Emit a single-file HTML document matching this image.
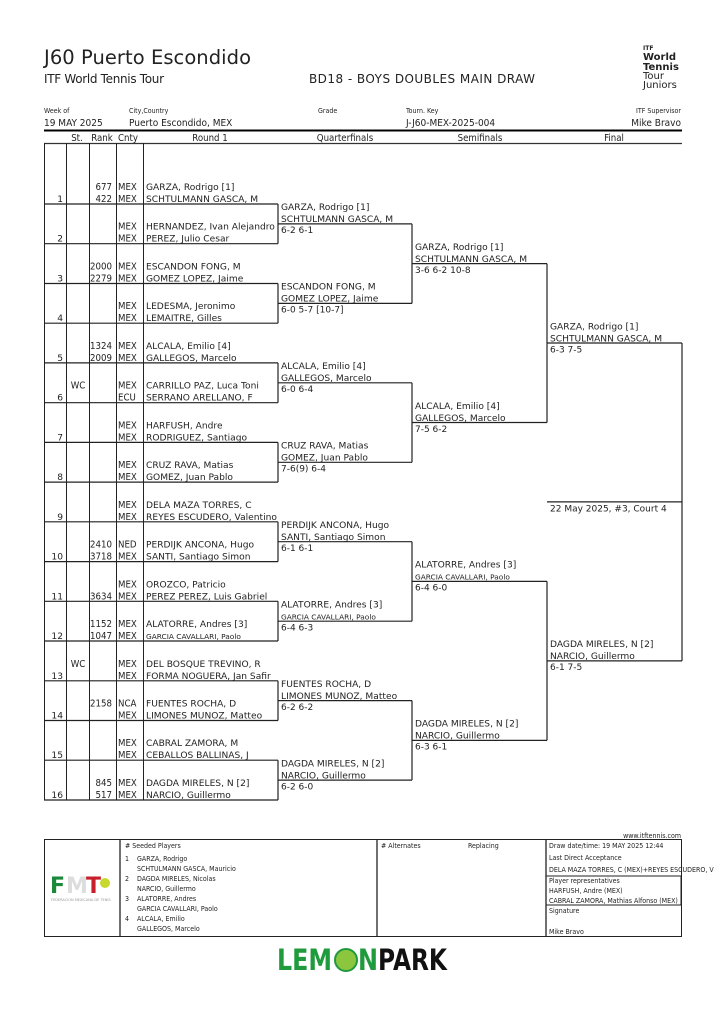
<!DOCTYPE html>
<html><head><meta charset="utf-8"><style>
html,body{margin:0;padding:0;background:#fff;}
svg{display:block}
text{font-family:"DejaVu Sans","Liberation Sans",sans-serif;fill:#222}
.n{font-size:9.1px}
.c{font-family:"DejaVu Sans Condensed","DejaVu Sans",sans-serif;font-size:9.6px}
.s{font-size:9px}
.sm{font-size:7.4px}
.h{font-family:"DejaVu Sans Condensed","DejaVu Sans",sans-serif;font-size:9.6px}
.f{font-family:"DejaVu Sans Condensed","DejaVu Sans",sans-serif;font-size:7px}
</style></head><body>
<svg width="724" height="1024" viewBox="0 0 724 1024" xmlns="http://www.w3.org/2000/svg">
<rect width="724" height="1024" fill="#fff"/>
<!-- Header -->
<text x="44" y="64" style="font-size:19.5px" textLength="207">J60 Puerto Escondido</text>
<text x="44" y="83" style="font-size:12px" textLength="120">ITF World Tennis Tour</text>
<text x="309" y="83" style="font-size:12px" textLength="226">BD18 - BOYS DOUBLES MAIN DRAW</text>
<g style="font-family:'Liberation Sans',sans-serif">
<text x="643" y="50" style="font-size:6px;font-weight:bold">ITF</text>
<text x="643" y="60" style="font-size:10px;font-weight:bold">World</text>
<text x="643" y="70" style="font-size:10px;font-weight:bold">Tennis</text>
<text x="643" y="79" style="font-size:10px">Tour</text>
<text x="643" y="88" style="font-size:10px">Juniors</text>
</g>
<text x="44" y="113" class="f">Week of</text>
<text x="129" y="113" class="f">City,Country</text>
<text x="318" y="113" class="f">Grade</text>
<text x="406" y="113" class="f">Tourn. Key</text>
<text x="681" y="113" class="f" text-anchor="end">ITF Supervisor</text>
<text x="44" y="126" class="h" style="font-size:10px">19 MAY 2025</text>
<text x="129" y="126" class="h" style="font-size:10px">Puerto Escondido, MEX</text>
<text x="406" y="126" class="h" style="font-size:10px">J-J60-MEX-2025-004</text>
<text x="681" y="126" class="h" style="font-size:10px" text-anchor="end">Mike Bravo</text>
<line x1="44" y1="130.5" x2="682" y2="130.5" stroke="#000" stroke-width="2"/>
<text x="77" y="141" text-anchor="middle" class="h">St.</text>
<text x="102" y="141" text-anchor="middle" class="h">Rank</text>
<text x="128" y="141" text-anchor="middle" class="h">Cnty</text>
<text x="210" y="141" text-anchor="middle" class="h">Round 1</text>
<text x="345" y="141" text-anchor="middle" class="h">Quarterfinals</text>
<text x="480" y="141" text-anchor="middle" class="h">Semifinals</text>
<text x="614" y="141" text-anchor="middle" class="h">Final</text>
<line x1="44" y1="143.5" x2="682" y2="143.5" stroke="#333" stroke-width="1.3"/>
<g stroke="#222" stroke-width="1">
<line x1="44.5" y1="143" x2="44.5" y2="800"/>
<line x1="66.5" y1="143" x2="66.5" y2="800"/>
<line x1="89.5" y1="143" x2="89.5" y2="800"/>
<line x1="116.5" y1="143" x2="116.5" y2="800"/>
<line x1="143.5" y1="143" x2="143.5" y2="800"/>
</g>
<g stroke="#222" stroke-width="1.2">
<line x1="44" y1="204" x2="278" y2="204"/>
<line x1="44" y1="243.7" x2="278" y2="243.7"/>
<line x1="44" y1="283.5" x2="278" y2="283.5"/>
<line x1="44" y1="323.2" x2="278" y2="323.2"/>
<line x1="44" y1="362.9" x2="278" y2="362.9"/>
<line x1="44" y1="402.7" x2="278" y2="402.7"/>
<line x1="44" y1="442.4" x2="278" y2="442.4"/>
<line x1="44" y1="482.1" x2="278" y2="482.1"/>
<line x1="44" y1="521.8" x2="278" y2="521.8"/>
<line x1="44" y1="561.6" x2="278" y2="561.6"/>
<line x1="44" y1="601.3" x2="278" y2="601.3"/>
<line x1="44" y1="641" x2="278" y2="641"/>
<line x1="44" y1="680.8" x2="278" y2="680.8"/>
<line x1="44" y1="720.5" x2="278" y2="720.5"/>
<line x1="44" y1="760.2" x2="278" y2="760.2"/>
<line x1="44" y1="800" x2="278" y2="800"/>
<line x1="278" y1="204" x2="278" y2="243.7"/>
<line x1="278" y1="283.5" x2="278" y2="323.2"/>
<line x1="278" y1="362.9" x2="278" y2="402.7"/>
<line x1="278" y1="442.4" x2="278" y2="482.1"/>
<line x1="278" y1="521.8" x2="278" y2="561.6"/>
<line x1="278" y1="601.3" x2="278" y2="641"/>
<line x1="278" y1="680.8" x2="278" y2="720.5"/>
<line x1="278" y1="760.2" x2="278" y2="800"/>
<line x1="278" y1="223.9" x2="412" y2="223.9"/>
<line x1="278" y1="303.4" x2="412" y2="303.4"/>
<line x1="278" y1="382.8" x2="412" y2="382.8"/>
<line x1="278" y1="462.3" x2="412" y2="462.3"/>
<line x1="278" y1="541.7" x2="412" y2="541.7"/>
<line x1="278" y1="621.2" x2="412" y2="621.2"/>
<line x1="278" y1="700.6" x2="412" y2="700.6"/>
<line x1="278" y1="780.1" x2="412" y2="780.1"/>
<line x1="412" y1="223.9" x2="412" y2="303.4"/>
<line x1="412" y1="382.8" x2="412" y2="462.3"/>
<line x1="412" y1="541.7" x2="412" y2="621.2"/>
<line x1="412" y1="700.6" x2="412" y2="780.1"/>
<line x1="412" y1="263.6" x2="547" y2="263.6"/>
<line x1="412" y1="422.5" x2="547" y2="422.5"/>
<line x1="412" y1="581.4" x2="547" y2="581.4"/>
<line x1="412" y1="740.4" x2="547" y2="740.4"/>
<line x1="547" y1="263.6" x2="547" y2="422.5"/>
<line x1="547" y1="581.4" x2="547" y2="740.4"/>
<line x1="547" y1="343" x2="682" y2="343"/>
<line x1="547" y1="660.9" x2="682" y2="660.9"/>
<line x1="682" y1="343" x2="682" y2="660.9"/>
<line x1="547" y1="501.9" x2="682" y2="501.9"/>
</g>
<g>
<text x="63" y="202" text-anchor="end" class="n">1</text>
<text x="112" y="190" text-anchor="end" class="c">677</text><text x="112" y="202" text-anchor="end" class="c">422</text>
<text x="118" y="190" class="c">MEX</text><text x="118" y="202" class="c">MEX</text>
<text x="146" y="190" class="n">GARZA, Rodrigo [1]</text><text x="146" y="202" class="n">SCHTULMANN GASCA, M</text>

<text x="63" y="241.7" text-anchor="end" class="n">2</text>
<text x="118" y="229.7" class="c">MEX</text><text x="118" y="241.7" class="c">MEX</text>
<text x="146" y="229.7" class="n">HERNANDEZ, Ivan Alejandro</text><text x="146" y="241.7" class="n">PEREZ, Julio Cesar</text>

<text x="63" y="281.5" text-anchor="end" class="n">3</text>
<text x="112" y="269.5" text-anchor="end" class="c">2000</text><text x="112" y="281.5" text-anchor="end" class="c">2279</text>
<text x="118" y="269.5" class="c">MEX</text><text x="118" y="281.5" class="c">MEX</text>
<text x="146" y="269.5" class="n">ESCANDON FONG, M</text><text x="146" y="281.5" class="n">GOMEZ LOPEZ, Jaime</text>

<text x="63" y="321.2" text-anchor="end" class="n">4</text>
<text x="118" y="309.2" class="c">MEX</text><text x="118" y="321.2" class="c">MEX</text>
<text x="146" y="309.2" class="n">LEDESMA, Jeronimo</text><text x="146" y="321.2" class="n">LEMAITRE, Gilles</text>

<text x="63" y="360.9" text-anchor="end" class="n">5</text>
<text x="112" y="348.9" text-anchor="end" class="c">1324</text><text x="112" y="360.9" text-anchor="end" class="c">2009</text>
<text x="118" y="348.9" class="c">MEX</text><text x="118" y="360.9" class="c">MEX</text>
<text x="146" y="348.9" class="n">ALCALA, Emilio [4]</text><text x="146" y="360.9" class="n">GALLEGOS, Marcelo</text>

<text x="63" y="400.7" text-anchor="end" class="n">6</text>
<text x="78" y="388.7" text-anchor="middle" class="c">WC</text>
<text x="118" y="388.7" class="c">MEX</text><text x="118" y="400.7" class="c">ECU</text>
<text x="146" y="388.7" class="n">CARRILLO PAZ, Luca Toni</text><text x="146" y="400.7" class="n">SERRANO ARELLANO, F</text>

<text x="63" y="440.4" text-anchor="end" class="n">7</text>
<text x="118" y="428.4" class="c">MEX</text><text x="118" y="440.4" class="c">MEX</text>
<text x="146" y="428.4" class="n">HARFUSH, Andre</text><text x="146" y="440.4" class="n">RODRIGUEZ, Santiago</text>

<text x="63" y="480.1" text-anchor="end" class="n">8</text>
<text x="118" y="468.1" class="c">MEX</text><text x="118" y="480.1" class="c">MEX</text>
<text x="146" y="468.1" class="n">CRUZ RAVA, Matias</text><text x="146" y="480.1" class="n">GOMEZ, Juan Pablo</text>

<text x="63" y="519.8" text-anchor="end" class="n">9</text>
<text x="118" y="507.8" class="c">MEX</text><text x="118" y="519.8" class="c">MEX</text>
<text x="146" y="507.8" class="n">DELA MAZA TORRES, C</text><text x="146" y="519.8" class="n">REYES ESCUDERO, Valentino</text>

<text x="63" y="559.6" text-anchor="end" class="n">10</text>
<text x="112" y="547.6" text-anchor="end" class="c">2410</text><text x="112" y="559.6" text-anchor="end" class="c">3718</text>
<text x="118" y="547.6" class="c">NED</text><text x="118" y="559.6" class="c">MEX</text>
<text x="146" y="547.6" class="n">PERDIJK ANCONA, Hugo</text><text x="146" y="559.6" class="n">SANTI, Santiago Simon</text>

<text x="63" y="599.3" text-anchor="end" class="n">11</text>
<text x="112" y="599.3" text-anchor="end" class="c">3634</text>
<text x="118" y="587.3" class="c">MEX</text><text x="118" y="599.3" class="c">MEX</text>
<text x="146" y="587.3" class="n">OROZCO, Patricio</text><text x="146" y="599.3" class="n">PEREZ PEREZ, Luis Gabriel</text>

<text x="63" y="639" text-anchor="end" class="n">12</text>
<text x="112" y="627" text-anchor="end" class="c">1152</text><text x="112" y="639" text-anchor="end" class="c">1047</text>
<text x="118" y="627" class="c">MEX</text><text x="118" y="639" class="c">MEX</text>
<text x="146" y="627" class="n">ALATORRE, Andres [3]</text><text x="146" y="639" class="sm">GARCIA CAVALLARI, Paolo</text>

<text x="63" y="678.8" text-anchor="end" class="n">13</text>
<text x="78" y="666.8" text-anchor="middle" class="c">WC</text>
<text x="118" y="666.8" class="c">MEX</text><text x="118" y="678.8" class="c">MEX</text>
<text x="146" y="666.8" class="n">DEL BOSQUE TREVINO, R</text><text x="146" y="678.8" class="n">FORMA NOGUERA, Jan Safir</text>

<text x="63" y="718.5" text-anchor="end" class="n">14</text>
<text x="112" y="706.5" text-anchor="end" class="c">2158</text>
<text x="118" y="706.5" class="c">NCA</text><text x="118" y="718.5" class="c">MEX</text>
<text x="146" y="706.5" class="n">FUENTES ROCHA, D</text><text x="146" y="718.5" class="n">LIMONES MUNOZ, Matteo</text>

<text x="63" y="758.2" text-anchor="end" class="n">15</text>
<text x="118" y="746.2" class="c">MEX</text><text x="118" y="758.2" class="c">MEX</text>
<text x="146" y="746.2" class="n">CABRAL ZAMORA, M</text><text x="146" y="758.2" class="n">CEBALLOS BALLINAS, J</text>

<text x="63" y="798" text-anchor="end" class="n">16</text>
<text x="112" y="786" text-anchor="end" class="c">845</text><text x="112" y="798" text-anchor="end" class="c">517</text>
<text x="118" y="786" class="c">MEX</text><text x="118" y="798" class="c">MEX</text>
<text x="146" y="786" class="n">DAGDA MIRELES, N [2]</text><text x="146" y="798" class="n">NARCIO, Guillermo</text>
</g>
<g>
<text x="281" y="210" class="n">GARZA, Rodrigo [1]</text><text x="281" y="222" class="n">SCHTULMANN GASCA, M</text><text x="281" y="233" class="s">6-2 6-1</text>
<text x="281" y="289.5" class="n">ESCANDON FONG, M</text><text x="281" y="301.5" class="n">GOMEZ LOPEZ, Jaime</text><text x="281" y="312.5" class="s">6-0 5-7 [10-7]</text>
<text x="281" y="369" class="n">ALCALA, Emilio [4]</text><text x="281" y="381" class="n">GALLEGOS, Marcelo</text><text x="281" y="392" class="s">6-0 6-4</text>
<text x="281" y="448.5" class="n">CRUZ RAVA, Matias</text><text x="281" y="460.5" class="n">GOMEZ, Juan Pablo</text><text x="281" y="471.5" class="s">7-6(9) 6-4</text>
<text x="281" y="528" class="n">PERDIJK ANCONA, Hugo</text><text x="281" y="540" class="n">SANTI, Santiago Simon</text><text x="281" y="551" class="s">6-1 6-1</text>
<text x="281" y="607.5" class="n">ALATORRE, Andres [3]</text><text x="281" y="619.5" class="sm">GARCIA CAVALLARI, Paolo</text><text x="281" y="630.5" class="s">6-4 6-3</text>
<text x="281" y="687" class="n">FUENTES ROCHA, D</text><text x="281" y="699" class="n">LIMONES MUNOZ, Matteo</text><text x="281" y="710" class="s">6-2 6-2</text>
<text x="281" y="766.5" class="n">DAGDA MIRELES, N [2]</text><text x="281" y="778.5" class="n">NARCIO, Guillermo</text><text x="281" y="789.5" class="s">6-2 6-0</text>
<text x="415" y="250" class="n">GARZA, Rodrigo [1]</text><text x="415" y="262" class="n">SCHTULMANN GASCA, M</text><text x="415" y="273" class="s">3-6 6-2 10-8</text>
<text x="415" y="409" class="n">ALCALA, Emilio [4]</text><text x="415" y="421" class="n">GALLEGOS, Marcelo</text><text x="415" y="432" class="s">7-5 6-2</text>
<text x="415" y="567.5" class="n">ALATORRE, Andres [3]</text><text x="415" y="579.5" class="sm">GARCIA CAVALLARI, Paolo</text><text x="415" y="590.5" class="s">6-4 6-0</text>
<text x="415" y="726.5" class="n">DAGDA MIRELES, N [2]</text><text x="415" y="738.5" class="n">NARCIO, Guillermo</text><text x="415" y="749.5" class="s">6-3 6-1</text>
<text x="550" y="329.5" class="n">GARZA, Rodrigo [1]</text><text x="550" y="341.5" class="n">SCHTULMANN GASCA, M</text><text x="550" y="352.5" class="s">6-3 7-5</text>
<text x="550" y="647" class="n">DAGDA MIRELES, N [2]</text><text x="550" y="659" class="n">NARCIO, Guillermo</text><text x="550" y="670" class="s">6-1 7-5</text>
<text x="550" y="511.5" class="s">22 May 2025, #3, Court 4</text>
</g>
<text x="681" y="838" class="f" text-anchor="end">www.itftennis.com</text>
<rect x="44.5" y="839.5" width="637" height="97" fill="none" stroke="#222" stroke-width="1"/>
<g stroke="#222" stroke-width="1.3">
<line x1="120" y1="839" x2="120" y2="937"/>
<line x1="377" y1="839" x2="377" y2="937"/>
<line x1="546" y1="839" x2="546" y2="937"/>
<rect x="546" y="876" width="135" height="29" fill="none" stroke-width="1"/>
</g>
<g>
<text x="125" y="848" class="f">#  Seeded Players</text>
<text x="125" y="861" class="f">1</text><text x="137" y="861" class="f">GARZA, Rodrigo</text>
<text x="137" y="871" class="f">SCHTULMANN GASCA, Mauricio</text>
<text x="125" y="881" class="f">2</text><text x="137" y="881" class="f">DAGDA MIRELES, Nicolas</text>
<text x="137" y="891" class="f">NARCIO, Guillermo</text>
<text x="125" y="901" class="f">3</text><text x="137" y="901" class="f">ALATORRE, Andres</text>
<text x="137" y="911" class="f">GARCIA CAVALLARI, Paolo</text>
<text x="125" y="921" class="f">4</text><text x="137" y="921" class="f">ALCALA, Emilio</text>
<text x="137" y="931" class="f">GALLEGOS, Marcelo</text>
<text x="381" y="848" class="f"># Alternates</text>
<text x="468" y="848" class="f">Replacing</text>
<text x="549" y="848" class="f">Draw date/time:  19 MAY 2025 12:44</text>
<text x="549" y="860" class="f">Last Direct Acceptance</text>
<text x="549" y="872" class="f">DELA MAZA TORRES, C (MEX)+REYES ESCUDERO, V</text>
<text x="549" y="883" class="f">Player representatives</text>
<text x="549" y="893" class="f">HARFUSH, Andre (MEX)</text>
<text x="549" y="903" class="f">CABRAL ZAMORA, Mathias Alfonso (MEX)</text>
<text x="549" y="913" class="f">Signature</text>
<text x="549" y="934" class="f">Mike Bravo</text>
</g>
<g style="font-family:'Liberation Sans',sans-serif;font-weight:bold">
<text x="50" y="893" style="font-size:22px;fill:#1a8a3a">F</text>
<text x="66" y="893" style="font-size:22px;fill:#ddd">M</text>
<text x="86" y="893" style="font-size:22px;fill:#c8202a">T</text>
<circle cx="105" cy="883" r="5" fill="#c9d82c"/>
<text x="51" y="901" style="font-size:3.5px;fill:#999;font-weight:normal">FEDERACION MEXICANA DE TENIS</text>
</g>
<g style="font-family:'Liberation Sans',sans-serif;font-weight:bold">
<text x="277" y="970" style="font-size:29px;fill:#1f9a3c" textLength="55" lengthAdjust="spacingAndGlyphs">LEM</text>
<circle cx="346" cy="960" r="11" fill="#8cc63f"/>
<circle cx="346" cy="960" r="11" fill="none" stroke="#1f9a3c" stroke-width="2"/>
<text x="358" y="970" style="font-size:29px;fill:#1f9a3c" textLength="20" lengthAdjust="spacingAndGlyphs">N</text>
<text x="378" y="970" style="font-size:29px;fill:#111" textLength="69" lengthAdjust="spacingAndGlyphs">PARK</text>
</g>
</svg>
</body></html>
